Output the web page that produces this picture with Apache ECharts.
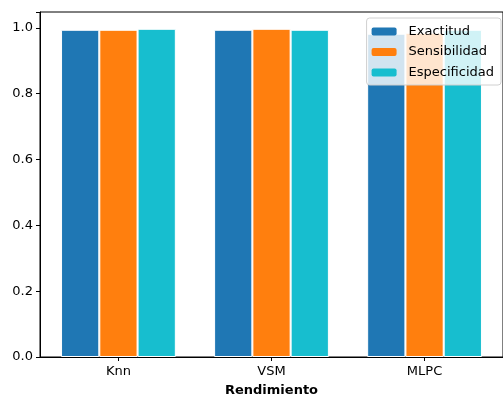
<!DOCTYPE html>
<html><head><meta charset="utf-8">
<script src="https://cdn.jsdelivr.net/npm/echarts@6/dist/echarts.min.js"></script>
<style>html,body{margin:0;padding:0;background:#fff}#c{width:503px;height:402px}</style>
</head><body><div id="c"></div>
<script>
const categories = ['Knn', 'VSM', 'MLPC'];
const exactitud = [0.994, 0.994, 0.982];
const sensibilidad = [0.994, 0.997, 0.985];
const especificidad = [0.997, 0.994, 0.994];
const yTicks = [0.0, 0.2, 0.4, 0.6, 0.8, 1.0];

const chart = echarts.init(document.getElementById('c'), null, {renderer: 'canvas'});
const font = 'DejaVu Sans';
const catIdx = categories.map((c, i) => i);
function bar(name, data, color) {
  return {name, type: 'bar', data: data.map((v, i) => [i, v]), barGap: '0%', barCategoryGap: '25%',
    itemStyle: {color, borderColor: '#fff', borderWidth: 1}};
}
chart.setOption({
  animation: false,
  textStyle: {fontFamily: font},
  grid: {left: 40, right: -3, top: 12, bottom: 40, show: true, borderColor: '#000', borderWidth: 1},
  legend: {
    orient: 'vertical', right: 2, top: 18, itemWidth: 25, itemHeight: 8, itemGap: 7.5,
    padding: [7, 7, 6, 5], backgroundColor: 'rgba(255,255,255,0.8)', borderColor: '#d0d0d0',
    borderWidth: 1, borderRadius: 3,
    textStyle: {fontFamily: font, fontSize: 13, color: '#000', padding: [0, 0, 0, 7]},
    itemStyle: {borderWidth: 0}
  },
  xAxis: {
    type: 'value', min: -0.5125, max: 2.5125,
    splitLine: {show: false},
    name: 'Rendimiento', nameLocation: 'middle', nameGap: 27,
    nameTextStyle: {fontFamily: font, fontSize: 13, fontWeight: 'bold', color: '#000'},
    axisLine: {onZero: false, lineStyle: {color: '#000'}},
    axisTick: {show: true, length: 4, customValues: catIdx, lineStyle: {color: '#000'}},
    axisLabel: {fontFamily: font, fontSize: 13, color: '#000', margin: 8, customValues: catIdx,
      formatter: v => categories[Math.round(v)] ?? ''}
  },
  yAxis: {
    type: 'value', min: 0, max: 1.048, interval: 0.2,
    axisLine: {show: true, onZero: false, lineStyle: {color: '#000'}},
    axisTick: {show: true, length: 4, lineStyle: {color: '#000'}},
    splitLine: {show: false},
    axisLabel: {fontFamily: font, fontSize: 13, color: '#000', margin: 7,
      formatter: v => yTicks.some(t => Math.abs(t - v) < 1e-9) ? v.toFixed(1) : ''},
    showMaxLabel: false
  },
  series: [
    bar('Exactitud', exactitud, '#1f77b4'),
    bar('Sensibilidad', sensibilidad, '#ff7f0e'),
    bar('Especificidad', especificidad, '#17becf')
  ]
});
</script></body></html>
